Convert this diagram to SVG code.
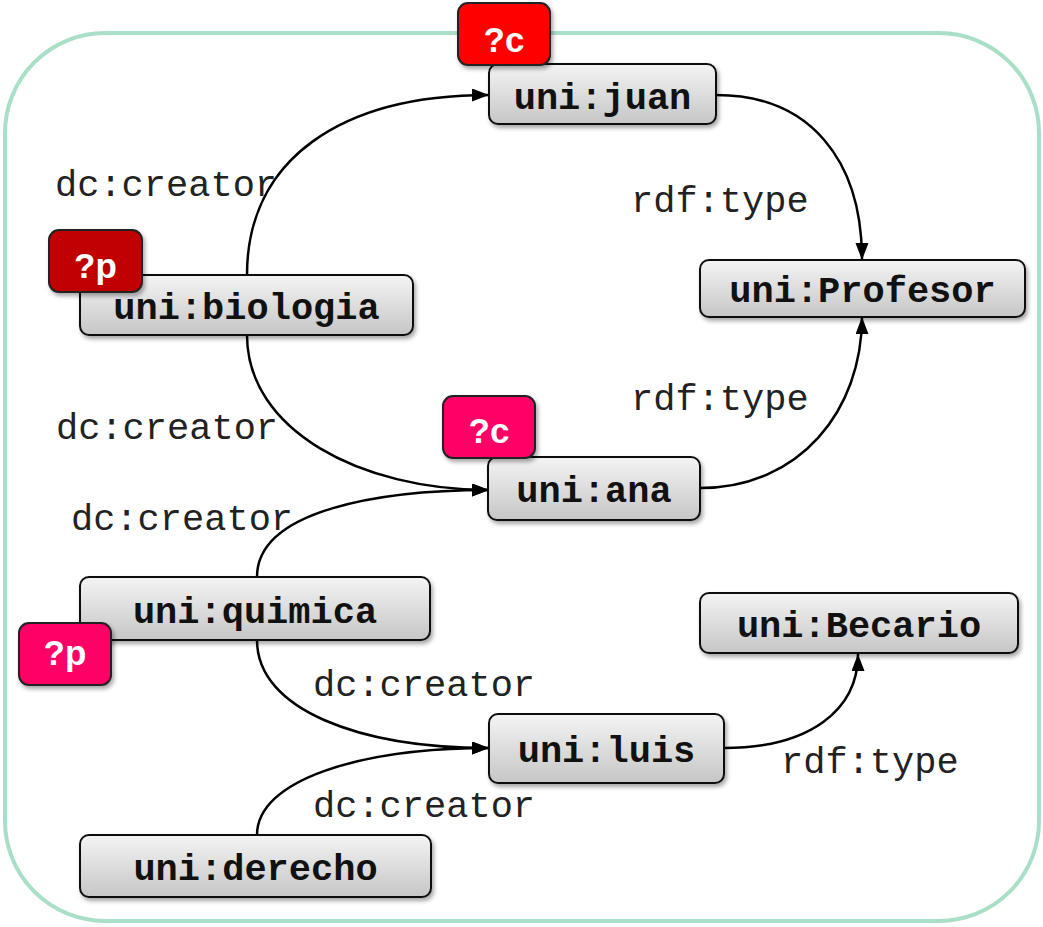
<svg xmlns="http://www.w3.org/2000/svg" width="1043" height="927" viewBox="0 0 1043 927">
<style>
.node rect{fill:url(#g);stroke:#111;stroke-width:2;filter:url(#sh)}
.node text{font-family:"Liberation Mono",monospace;font-weight:bold;font-size:37px;fill:#111;text-anchor:middle}
.lbl{font-family:"Liberation Mono",monospace;font-size:37px;fill:#222}
.edge{fill:none;stroke:#000;stroke-width:2.5;marker-end:url(#ah)}
.badge rect{stroke:#222;stroke-width:2;filter:url(#sh)}
.badge text{font-family:"Liberation Sans",Arial,sans-serif;font-weight:bold;font-size:35px;fill:#fff;text-anchor:middle}
</style>
<defs>
<linearGradient id="g" x1="0" y1="0" x2="0" y2="1">
<stop offset="0" stop-color="#f4f4f4"/>
<stop offset="1" stop-color="#c6c6c6"/>
</linearGradient>
<filter id="sh" x="-10%" y="-20%" width="130%" height="160%">
<feDropShadow dx="2" dy="3" stdDeviation="2" flood-color="#000" flood-opacity="0.35"/>
</filter>
<marker id="ah" markerUnits="userSpaceOnUse" markerWidth="18" markerHeight="14" refX="17" refY="6.5" orient="auto">
<path d="M0,0 L17,6.5 L0,13 z" fill="#000"/>
</marker>
</defs>
<rect x="5" y="33" width="1034" height="888" rx="100" ry="100" fill="#fff" stroke="#a9dfc6" stroke-width="4"/>
<g id="connectors">
<path class="edge" d="M247,275 C247,160 340,95 489,95"/>
<path class="edge" d="M247,335 C247,430 360,490 489,490"/>
<path class="edge" d="M257,577 C257,510 380,490 489,490"/>
<path class="edge" d="M257,640 C257,710 360,748 489,748"/>
<path class="edge" d="M257,835 C257,780 360,748 489,748"/>
<path class="edge" d="M716,95 C810,95 862,160 862,260"/>
<path class="edge" d="M700,488 C800,488 862,410 862,317"/>
<path class="edge" d="M724,748 C810,748 858,710 858,654"/>
<text class="lbl" x="55" y="196">dc:creator</text>
<text class="lbl" x="631" y="212">rdf:type</text>
<text class="lbl" x="56" y="439">dc:creator</text>
<text class="lbl" x="631" y="410">rdf:type</text>
<text class="lbl" x="71" y="530">dc:creator</text>
<text class="lbl" x="313" y="696">dc:creator</text>
<text class="lbl" x="781" y="773">rdf:type</text>
<text class="lbl" x="313" y="817">dc:creator</text>
</g>
<g id="juan" class="node"><rect x="489" y="64" width="227" height="60" rx="9"/><text x="602.5" y="109">uni:juan</text></g>
<g id="biologia" class="node"><rect x="80" y="275" width="333" height="60" rx="9"/><text x="246.5" y="319">uni:biologia</text></g>
<g id="profesor" class="node"><rect x="700" y="260" width="325" height="57" rx="9"/><text x="862.5" y="302">uni:Profesor</text></g>
<g id="ana" class="node"><rect x="488" y="457" width="212" height="63" rx="9"/><text x="594" y="502">uni:ana</text></g>
<g id="quimica" class="node"><rect x="80" y="577" width="350" height="63" rx="9"/><text x="255" y="623">uni:quimica</text></g>
<g id="becario" class="node"><rect x="700" y="593" width="318" height="60" rx="9"/><text x="859" y="637">uni:Becario</text></g>
<g id="luis" class="node"><rect x="489" y="714" width="235" height="69" rx="9"/><text x="606.5" y="762">uni:luis</text></g>
<g id="derecho" class="node"><rect x="80" y="835" width="351" height="62" rx="9"/><text x="255.5" y="880">uni:derecho</text></g>
<g id="badge-c1" class="badge"><rect x="458" y="3" width="92" height="62" rx="10" fill="#ff0000"/><text x="504" y="52">?c</text></g>
<g id="badge-p1" class="badge"><rect x="49" y="230" width="93" height="62" rx="10" fill="#c00000"/><text x="95.5" y="278">?p</text></g>
<g id="badge-c2" class="badge"><rect x="443" y="396" width="92" height="62" rx="10" fill="#ff0066"/><text x="489" y="443">?c</text></g>
<g id="badge-p2" class="badge"><rect x="19" y="623" width="92" height="62" rx="10" fill="#ff0066"/><text x="65" y="665">?p</text></g>
</svg>
